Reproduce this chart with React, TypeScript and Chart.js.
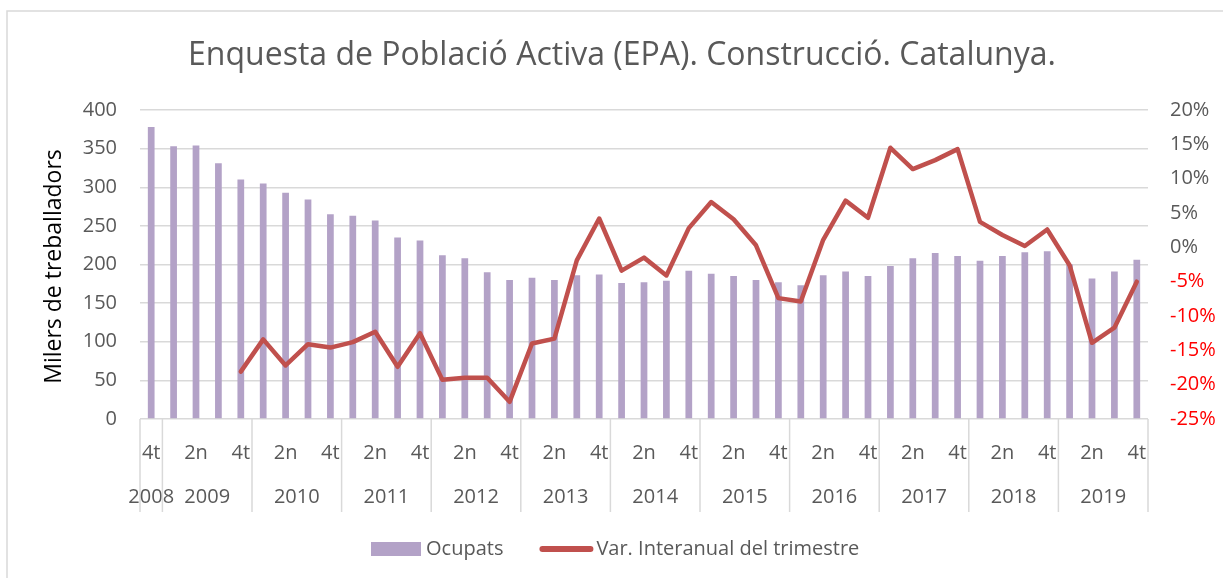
import React, { useEffect, useRef } from "react";
import { Chart, registerables } from "chart.js";

Chart.register(...registerables);

const TITLE = "Enquesta de Població Activa (EPA). Construcció. Catalunya.";
const Y_TITLE = "Milers de treballadors";
const YEARS = ["2008", "2009", "2010", "2011", "2012", "2013", "2014", "2015", "2016", "2017", "2018", "2019"];
const QUARTERS = ["1r", "2n", "3r", "4t"];
const FIRST_YEAR_QUARTERS = ["4t"];

// Ocupats (milers), 2008 4t ... 2019 4t
const OCUPATS = [
  378, 353, 354, 331, 310, 305, 293, 284, 265, 263, 257, 235, 231, 212, 208, 190,
  180, 183, 180, 186, 187, 176, 177, 179, 192, 188, 185, 180, 177, 173, 186, 191,
  185, 198, 208, 215, 211, 205, 211, 216, 217, 200, 182, 191, 206,
];

// Var. interanual del trimestre (%), starts 2009 4t
const VAR_INTERANUAL = [
  null, null, null, null,
  -18.1, -13.4, -17.2, -14.1, -14.6, -13.8, -12.3, -17.4, -12.5, -19.3, -19.0, -19.0,
  -22.5, -14.0, -13.3, -1.9, 4.2, -3.4, -1.5, -4.1, 2.8, 6.6, 4.1, 0.3, -7.4, -7.9,
  1.1, 6.8, 4.3, 14.5, 11.4, 12.7, 14.3, 3.7, 1.8, 0.2, 2.6, -2.6, -13.9, -11.7, -5.0,
];

const LEFT_TICKS = { min: 0, max: 400, step: 50 };
const RIGHT_TICKS = { min: -25, max: 20, step: 5 };

const SERIES_NAMES = ["Ocupats", "Var. Interanual del trimestre"];

const BAR_COLOR = "#B3A2C7";
const LINE_COLOR = "#C0504D";
const TEXT_COLOR = "#595959";
const GRID_COLOR = "#D9D9D9";
const FONT = "'Open Sans'";

// Build categories: [year, quarter]
const CATEGORY_YEARS: string[] = [];
const CATEGORY_QUARTERS: string[] = [];
YEARS.forEach((y, i) => {
  const qs = i === 0 ? FIRST_YEAR_QUARTERS : QUARTERS;
  qs.forEach((q) => {
    CATEGORY_YEARS.push(y);
    CATEGORY_QUARTERS.push(q);
  });
});
const LABELS = CATEGORY_YEARS.map((y, i) => `${CATEGORY_QUARTERS[i]} ${y}`);

const decorPlugin = {
  id: "decor",
  beforeDraw(chart: any) {
    const ctx = chart.ctx;
    ctx.save();
    ctx.strokeStyle = GRID_COLOR;
    ctx.lineWidth = 1.5;
    ctx.strokeRect(7, 11, chart.width + 20, chart.height + 20);
    ctx.restore();
  },
  afterDraw(chart: any) {
    const ctx = chart.ctx;
    const x = chart.scales.x;
    const y = chart.scales.y;
    const area = chart.chartArea;
    ctx.save();

    // Title
    ctx.fillStyle = TEXT_COLOR;
    ctx.font = `32px ${FONT}`;
    ctx.textAlign = "center";
    ctx.textBaseline = "alphabetic";
    ctx.fillText(TITLE, 622, 65);

    // Y axis title
    ctx.save();
    ctx.translate(54, (y.top + y.bottom) / 2 + 2);
    ctx.rotate(-Math.PI / 2);
    ctx.fillStyle = "#000000";
    ctx.font = `23px ${FONT}`;
    ctx.textAlign = "center";
    ctx.textBaseline = "middle";
    ctx.fillText(Y_TITLE, 0, 0);
    ctx.restore();

    // Category axis: quarter row, year row, group separators
    const half = (x.getPixelForValue(1) - x.getPixelForValue(0)) / 2;
    ctx.font = `20px ${FONT}`;
    ctx.textBaseline = "middle";
    ctx.textAlign = "center";
    ctx.fillStyle = TEXT_COLOR;
    CATEGORY_QUARTERS.forEach((q, i) => {
      if (i % 2 === 0) ctx.fillText(q, x.getPixelForValue(i), 453);
    });
    ctx.strokeStyle = GRID_COLOR;
    ctx.lineWidth = 1.5;
    const sepBottom = 512;
    let start = 0;
    const drawSep = (px: number) => {
      ctx.beginPath();
      ctx.moveTo(px, area.bottom);
      ctx.lineTo(px, sepBottom);
      ctx.stroke();
    };
    drawSep(x.getPixelForValue(0) - half);
    YEARS.forEach((yr) => {
      let end = start;
      while (end + 1 < CATEGORY_YEARS.length && CATEGORY_YEARS[end + 1] === yr) end++;
      const left = x.getPixelForValue(start) - half;
      const right = x.getPixelForValue(end) + half;
      ctx.fillText(yr, (left + right) / 2, 497);
      drawSep(right);
      start = end + 1;
    });

    // Legend
    ctx.textAlign = "left";
    ctx.font = `20px ${FONT}`;
    const ly = 549;
    let lx = 371;
    ctx.fillStyle = BAR_COLOR;
    ctx.fillRect(lx, ly - 7, 50, 14);
    lx += 55;
    ctx.fillStyle = TEXT_COLOR;
    ctx.fillText(SERIES_NAMES[0], lx, ly);
    lx += ctx.measureText(SERIES_NAMES[0]).width + 36;
    ctx.strokeStyle = LINE_COLOR;
    ctx.lineWidth = 6;
    ctx.lineCap = "round";
    ctx.beginPath();
    ctx.moveTo(lx + 3, ly);
    ctx.lineTo(lx + 51, ly);
    ctx.stroke();
    lx += 57;
    ctx.fillText(SERIES_NAMES[1], lx, ly);

    ctx.restore();
  },
};

export default function App() {
  const ref = useRef<HTMLCanvasElement | null>(null);

  useEffect(() => {
    if (!ref.current) return;
    Chart.defaults.font.family = FONT;
    const chart = new Chart(ref.current, {
      type: "bar",
      data: {
        labels: LABELS,
        datasets: [
          {
            type: "line",
            label: SERIES_NAMES[1],
            data: VAR_INTERANUAL as any,
            yAxisID: "y1",
            borderColor: LINE_COLOR,
            backgroundColor: LINE_COLOR,
            borderWidth: 4.5,
            pointRadius: 0,
            tension: 0,
            borderCapStyle: "round",
            borderJoinStyle: "round",
            order: 0,
          } as any,
          {
            type: "bar",
            label: SERIES_NAMES[0],
            data: OCUPATS,
            yAxisID: "y",
            backgroundColor: BAR_COLOR,
            barPercentage: 0.3,
            categoryPercentage: 1,
            order: 1,
          },
        ],
      },
      options: {
        responsive: false,
        animation: false,
        layout: { padding: { top: 110, bottom: 159, left: 0, right: 0 } },
        plugins: {
          legend: { display: false },
          title: { display: false },
          tooltip: { enabled: false },
        },
        scales: {
          x: {
            type: "category",
            display: false,
            offset: true,
          },
          y: {
            position: "left",
            min: LEFT_TICKS.min,
            max: LEFT_TICKS.max,
            ticks: {
              stepSize: LEFT_TICKS.step,
              padding: 23,
              color: TEXT_COLOR,
              font: { size: 20, family: FONT },
            },
            grid: { color: GRID_COLOR, lineWidth: 1.5, drawTicks: false },
            border: { display: false },
            afterFit: (s: any) => {
              s.width = 140;
            },
          },
          y1: {
            position: "right",
            min: RIGHT_TICKS.min,
            max: RIGHT_TICKS.max,
            ticks: {
              stepSize: RIGHT_TICKS.step,
              padding: 22,
              font: { size: 20, family: FONT },
              color: (c: any) => (c.tick && c.tick.value < 0 ? "#FF0000" : TEXT_COLOR),
              callback: (v: any) => `${v}%`,
            },
            grid: { display: false, drawTicks: false },
            border: { display: false },
            afterFit: (s: any) => {
              s.width = 75;
            },
          },
        },
      },
      plugins: [decorPlugin],
    });
    return () => chart.destroy();
  }, []);

  return (
    <div style={{ position: "absolute", left: 0, top: 0, width: 1223, height: 578, background: "#fff" }}>
      <canvas ref={ref} width={1223} height={578} />
    </div>
  );
}
